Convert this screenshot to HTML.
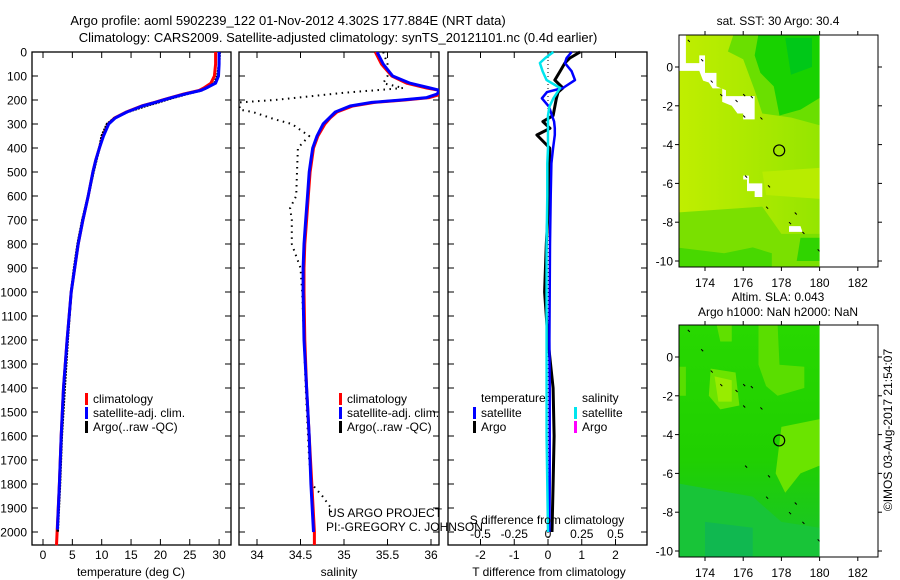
<!DOCTYPE html>
<html><head><meta charset="utf-8"><style>
html,body{margin:0;padding:0;background:#fff;}
svg{display:block;font-family:"Liberation Sans",sans-serif;}
</style></head><body>
<svg id="fig" width="900" height="580" viewBox="0 0 900 580" xmlns="http://www.w3.org/2000/svg">
<text x="288" y="25" font-size="13" text-anchor="middle">Argo profile: aoml 5902239_122 01-Nov-2012 4.302S 177.884E (NRT data)</text>
<text x="338" y="42" font-size="13" text-anchor="middle">Climatology: CARS2009. Satellite-adjusted climatology: synTS_20121101.nc (0.4d earlier)</text>
<g id="p1"></g>
<g id="p2"></g>
<g id="p3"></g>
<g id="m1"></g>
<g id="m2"></g>
<text transform="translate(892,430) rotate(-90)" font-size="12" text-anchor="middle">©IMOS 03-Aug-2017 21:54:07</text>
</svg>
<script>
// ---- data ----
const depthTicks=[0,100,200,300,400,500,600,700,800,900,1000,1100,1200,1300,1400,1500,1600,1700,1800,1900,2000];
const tempTicks=[0,5,10,15,20,25,30];
const salTicks=[34,34.5,35,35.5,36];
const tdiffTicks=[-2,-1,0,1,2];
const sdiffTicks=[-0.5,-0.25,0,0.25,0.5];
const lonTicks=[174,176,178,180,182];
const latTicks=[0,-2,-4,-6,-8,-10];

const depths=[0,50,100,130,150,160,175,190,200,210,225,250,275,300,350,400,450,500,600,700,800,900,1000,1200,1400,1600,1800,2000];
const tempClim=[29.4,29.4,29.2,28.6,27.4,26.6,24.0,21.8,20.4,19.0,16.8,14.2,12.2,11.1,10.2,9.6,9.0,8.5,7.7,6.8,6.0,5.4,4.8,4.1,3.5,3.1,2.8,2.4];
const tempSat=[30.0,30.0,29.9,29.4,27.8,26.9,24.2,21.9,20.5,19.1,16.9,14.3,12.3,11.2,10.3,9.6,9.0,8.5,7.7,6.8,6.0,5.4,4.8,4.1,3.5,3.1,2.8,2.4];
const tempArgo=[30.1,30.0,29.7,29.2,27.9,27.0,24.5,22.3,20.9,19.6,17.5,14.4,12.2,10.9,10.0,9.6,9.1,8.6,7.7,6.7,5.9,5.3,4.8,4.2,3.7,3.2,2.9,2.5];
const salClim=[35.36,35.43,35.55,35.72,35.95,36.1,36.12,35.98,35.7,35.35,35.1,34.92,34.84,34.78,34.7,34.65,34.63,34.61,34.59,34.57,34.55,34.54,34.54,34.55,34.57,34.6,34.63,34.66];
const salSat=[35.38,35.45,35.56,35.76,35.99,36.1,36.07,35.95,35.66,35.32,35.07,34.9,34.83,34.76,34.69,34.64,34.62,34.6,34.58,34.56,34.54,34.53,34.53,34.54,34.57,34.6,34.62,34.65];
const argoSalDepths=[0,50,100,130,150,170,185,200,210,240,250,280,300,350,400,500,600,650,700,800,900,1000,1400,1700,1800,1850,1900,1930];
const salArgo=[35.45,35.5,35.5,35.45,35.68,35.0,34.6,34.2,33.8,33.8,33.95,34.2,34.4,34.6,34.47,34.46,34.45,34.38,34.4,34.4,34.5,34.52,34.56,34.6,34.63,34.75,34.85,34.85];
const diffDepths=[0,25,46,80,117,150,167,193,228,265,290,318,346,400,464,600,800,1000,1200,1400,1600,1800,2000];
const tdiffSat=[0.7,0.55,0.5,0.7,0.8,0.44,-0.03,-0.18,0.03,0.12,0.18,0.2,0.2,0.15,0.1,0.08,0.06,0.05,0.04,0.05,0.05,0.05,0.04];
const tdiffArgo=[0.95,0.65,0.5,0.36,0.2,0.44,0.3,0.25,0.2,0.15,-0.15,0.06,-0.33,0.05,0.05,0.03,-0.05,-0.1,0.0,0.15,0.18,0.15,0.12];
const sdiffSat=[0.04,-0.02,-0.06,-0.04,-0.01,0.09,0.07,0.04,0.01,0.0,0.0,0.0,0.0,0.0,-0.005,-0.005,-0.01,-0.01,-0.01,-0.01,-0.01,-0.005,0.0];

const NS="http://www.w3.org/2000/svg";
function mk(parent,tag,attrs,txt){const e=document.createElementNS(NS,tag);for(const k in attrs)e.setAttribute(k,attrs[k]);if(txt!==undefined)e.textContent=txt;parent.appendChild(e);return e;}

const yTop=52,yBot=545;
const yD=d=>yTop+d*0.24;

function frame(g,x0,x1,name){
  const r=mk(g,'rect',{x:x0,y:yTop,width:x1-x0,height:yBot-yTop,fill:'none',stroke:'#000','stroke-width':1.3});
  
  
  depthTicks.forEach(d=>{mk(g,'line',{x1:x0,x2:x0+6,y1:yD(d),y2:yD(d),stroke:'#000'});mk(g,'line',{x1:x1,x2:x1-6,y1:yD(d),y2:yD(d),stroke:'#000'});});
}
function line(g,xs,ds,fx,color,w,name,dash){
  const pts=xs.map((v,i)=>fx(v).toFixed(1)+','+yD(ds[i]).toFixed(1)).join(' ');
  const a={points:pts,fill:'none',stroke:color,'stroke-width':w,'stroke-linejoin':'round'};
  if(dash)a['stroke-dasharray']=dash;
  const p=mk(g,'polyline',a);
  
  
}
function legend(g,x,y,items){
  items.forEach((it,i)=>{
    const b=mk(g,'rect',{x:x,y:y+i*14-9,width:3,height:12,fill:it[1]});
    
    
    const t=mk(g,'text',{x:x+8,y:y+i*14+1,'font-size':12},it[0]);
    
    
  });
}

// Panel 1 temperature
const p1=document.getElementById('p1');
const fT=t=>43+t*5.87;
frame(p1,32,231,'temperature');
depthTicks.forEach(d=>{const t=mk(p1,'text',{x:27,y:yD(d)+4.5,'font-size':12,'text-anchor':'end'},d);});
tempTicks.forEach(v=>{mk(p1,'line',{x1:fT(v),x2:fT(v),y1:yTop,y2:yTop+6,stroke:'#000'});mk(p1,'line',{x1:fT(v),x2:fT(v),y1:yBot,y2:yBot-6,stroke:'#000'});const t=mk(p1,'text',{x:fT(v),y:559,'font-size':12,'text-anchor':'middle'},v);});
line(p1,tempClim.concat([2.3]),depths.concat([2055]),fT,'#ff0000',3,'temp-climatology-line');
line(p1,tempArgo,depths,fT,'#000',2.5,'temp-argo-line','2,1');
line(p1,tempSat.slice(0,-1).concat([2.45]),depths.slice(0,-1).concat([1990]),fT,'#0000ff',3,'temp-satellite-line');
legend(p1,85,402,[['climatology','#ff0000'],['satellite-adj. clim.','#0000ff'],['Argo(..raw -QC)','#000']]);
mk(p1,'text',{x:131,y:576,'font-size':12,'text-anchor':'middle',},'temperature (deg C)');

// Panel 2 salinity
const p2=document.getElementById('p2');
const fS=s=>257+(s-34)*87;
const clip=mk(p2,'clipPath',{id:'c2'});mk(clip,'rect',{x:239,y:yTop,width:200,height:yBot-yTop});
frame(p2,239,439,'salinity');
salTicks.forEach(v=>{mk(p2,'line',{x1:fS(v),x2:fS(v),y1:yTop,y2:yTop+6,stroke:'#000'});mk(p2,'line',{x1:fS(v),x2:fS(v),y1:yBot,y2:yBot-6,stroke:'#000'});const t=mk(p2,'text',{x:fS(v),y:559,'font-size':12,'text-anchor':'middle'},v);});
const g2=mk(p2,'g',{'clip-path':'url(#c2)'});
line(g2,salArgo,argoSalDepths,fS,'#000',2,'salinity-argo-line','1.5,4.5');
line(g2,salClim.concat([34.66]),depths.concat([2055]),fS,'#ff0000',3,'salinity-climatology-line');
line(g2,salSat,depths,fS,'#0000ff',3,'salinity-satellite-line');
legend(p2,339,402,[['climatology','#ff0000'],['satellite-adj. clim.','#0000ff'],['Argo(..raw -QC)','#000']]);
mk(p2,'text',{x:328,y:517,'font-size':12,},'US ARGO PROJECT');
mk(p2,'text',{x:326,y:531,'font-size':12,},'PI:-GREGORY C. JOHNSON');
mk(p2,'text',{x:339,y:576,'font-size':12,'text-anchor':'middle',},'salinity');

// Panel 3 differences
const p3=document.getElementById('p3');
const fTd=v=>548+v*33.75;
const fSd=v=>548+v*135;
frame(p3,448,647,'difference');
tdiffTicks.forEach(v=>{mk(p3,'line',{x1:fTd(v),x2:fTd(v),y1:yTop,y2:yTop+6,stroke:'#000'});mk(p3,'line',{x1:fTd(v),x2:fTd(v),y1:yBot,y2:yBot-6,stroke:'#000'});const t=mk(p3,'text',{x:fTd(v),y:559,'font-size':12,'text-anchor':'middle'},v);});
sdiffTicks.forEach(v=>{const t=mk(p3,'text',{x:fSd(v),y:538,'font-size':12,'text-anchor':'middle'},v);});
mk(p3,'line',{x1:548,x2:548,y1:yTop,y2:yBot,stroke:'#000','stroke-dasharray':'1,3',});
line(p3,tdiffArgo,diffDepths,fTd,'#000',3,'tdiff-argo-line');
line(p3,tdiffSat,diffDepths,fTd,'#0000ff',2.5,'tdiff-satellite-line');
line(p3,sdiffSat,diffDepths,fSd,'#00e5ee',2.5,'sdiff-satellite-line');
mk(p3,'text',{x:481,y:402,'font-size':12,},'temperature');
mk(p3,'text',{x:582,y:402,'font-size':12,},'salinity');
legend(p3,473,416,[['satellite','#0000ff'],['Argo','#000']]);
legend(p3,574,416,[['satellite','#00e5ee'],['Argo','#ff00ff']]);
mk(p3,'text',{x:547,y:524,'font-size':12,'text-anchor':'middle',},'S difference from climatology');
mk(p3,'text',{x:549,y:576,'font-size':12,'text-anchor':'middle',},'T difference from climatology');

// Maps
const argoLon=177.884, argoLat=-4.302;
function map(id,top,title1,title2,drawField){
  const g=document.getElementById(id);
  const x0=679,x1=878,y0=top,y1=top+232;
  const fx=l=>705+(l-174)*19.1;
  const lat0=top+32, fy=l=>lat0-l*19.4;
  const cp=mk(g,'clipPath',{id:'cp'+id});mk(cp,'rect',{x:x0,y:y0,width:fx(180)-x0,height:y1-y0});
  const f=mk(g,'g',{'clip-path':'url(#cp'+id+')'});
  drawField(f,fx,fy,x0,y0,x1,y1);
  // coast fragments
  [[173.1,1.4],[173.8,0.4],[174.3,-0.7],[174.8,-1.4],[175.6,-1.7],[176.0,-1.4],[176.4,-1.5],[176.0,-2.5],[176.9,-2.6],[176.1,-5.6],[177.3,-6.1],[177.2,-7.2],[178.7,-7.5],[178.4,-8.0],[179.1,-8.5],[179.9,-9.4]].forEach(c=>{mk(f,'line',{x1:fx(c[0]),y1:fy(c[1]),x2:fx(c[0])+2,y2:fy(c[1])+2,stroke:'#000','stroke-width':1});});
  const fr=mk(g,'rect',{x:x0,y:y0,width:x1-x0,height:y1-y0,fill:'none',stroke:'#000'});
  
  
  lonTicks.forEach(v=>{mk(g,'line',{x1:fx(v),x2:fx(v),y1:y0,y2:y0-4,stroke:'#000'});mk(g,'line',{x1:fx(v),x2:fx(v),y1:y1,y2:y1+4,stroke:'#000'});const t=mk(g,'text',{x:fx(v),y:y1+20,'font-size':12,'text-anchor':'middle'},v);});
  latTicks.forEach(v=>{mk(g,'line',{x1:x0,x2:x0-4,y1:fy(v),y2:fy(v),stroke:'#000'});mk(g,'line',{x1:x1,x2:x1+4,y1:fy(v),y2:fy(v),stroke:'#000'});const t=mk(g,'text',{x:x0-6,y:fy(v)+4.5,'font-size':12,'text-anchor':'end'},v);});
  const c=mk(g,'circle',{cx:fx(argoLon),cy:fy(argoLat),r:5.5,fill:'none',stroke:'#000','stroke-width':1.2});
  
  
  if(title2){mk(g,'text',{x:778,y:top-24,'font-size':12,'text-anchor':'middle',},title1);mk(g,'text',{x:778,y:top-9,'font-size':12,'text-anchor':'middle',},title2);}
  else mk(g,'text',{x:778,y:top-10,'font-size':12,'text-anchor':'middle',},title1);
}
map('m1',35,'sat. SST: 30 Argo: 30.4',null,(f,fx,fy,x0,y0,x1,y1)=>{
  const d=mk(f,'defs',{});
  const lg=mk(d,'linearGradient',{id:'g1',x1:0,y1:0,x2:1,y2:0});
  mk(lg,'stop',{offset:0,'stop-color':'#c0ee00'});mk(lg,'stop',{offset:0.45,'stop-color':'#a6e800'});mk(lg,'stop',{offset:1,'stop-color':'#80e200'});
  mk(f,'rect',{x:x0,y:y0,width:200,height:240,fill:'url(#g1)'});
  const poly=(pts,fill)=>mk(f,'polygon',{points:pts.map(p=>fx(p[0])+','+fy(p[1])).join(' '),fill:fill});
  poly([[175.5,1.7],[180,1.7],[180,-3.0],[178.5,-2.6],[177,-2.4],[176.6,-1.2],[176,0.4],[175.2,0.8]],'#6adf00');
  poly([[176.8,1.7],[180,1.7],[180,-1.6],[179,-2.2],[177.9,-2.5],[177.6,-1.0],[176.9,-0.3],[176.6,0.6]],'#18d200');
  poly([[178.2,1.5],[179.6,1.5],[179.6,0.0],[178.5,-0.4]],'#00c818');
  poly([[172.5,-7.5],[177,-7.2],[178,-8.6],[180,-8.6],[180,-10.5],[172.5,-10.5]],'#7ae000');
  poly([[172.5,-9.3],[175,-9.6],[176.5,-9.3],[177.5,-9.6],[177.5,-10.5],[172.5,-10.5]],'#48d800');
  poly([[179,-8.8],[180,-8.8],[180,-10],[178.8,-10]],'#30d400');
  poly([[177,-5.4],[180,-5.2],[180,-6.8],[177.2,-6.6]],'#b8ec00');
  const w='#ffffff';
  poly([[172.5,1.7],[173.0,1.7],[173.0,0.2],[173.7,0.2],[173.7,0.6],[174.0,0.6],[174.0,-0.3],[174.6,-0.3],[174.6,-1.0],[175.1,-1.2],[175.1,-1.5],[176.6,-1.5],[176.6,-2.7],[176.0,-2.7],[176.0,-2.4],[175.7,-2.4],[175.4,-2.0],[174.9,-1.8],[174.9,-1.1],[174.4,-1.1],[174.2,-0.8],[173.9,-0.7],[173.7,-0.2],[172.5,-0.2]],w);
  poly([[176.0,-5.6],[176.3,-5.6],[176.3,-6.0],[177.0,-6.0],[177.0,-6.7],[176.6,-6.7],[176.6,-6.4],[176.2,-6.4],[176.2,-5.8],[176.0,-5.8]],w);
  poly([[178.4,-8.2],[179.0,-8.2],[179.1,-8.5],[178.4,-8.5]],w);
});
map('m2',325,'Altim. SLA: 0.043','Argo h1000: NaN h2000: NaN',(f,fx,fy,x0,y0,x1,y1)=>{
  const d=mk(f,'defs',{});
  const lg=mk(d,'linearGradient',{id:'g2',x1:0,y1:0,x2:0,y2:1});
  mk(lg,'stop',{offset:0,'stop-color':'#28d800'});mk(lg,'stop',{offset:0.55,'stop-color':'#20d000'});mk(lg,'stop',{offset:1,'stop-color':'#18c230'});
  mk(f,'rect',{x:x0,y:y0,width:200,height:240,fill:'url(#g2)'});
  const poly=(pts,fill)=>mk(f,'polygon',{points:pts.map(p=>fx(p[0])+','+fy(p[1])).join(' '),fill:fill});
  poly([[172.5,-6.5],[176.5,-7.2],[178,-8.5],[180,-8.8],[180,-10.5],[172.5,-10.5]],'#18c438');
  poly([[174,-8.5],[176.5,-8.8],[176.5,-10.5],[174,-10.5]],'#10b850');
  poly([[174.3,-0.6],[175.6,-0.8],[175.8,-2.5],[174.8,-2.7],[174.2,-2.0]],'#6ce400');
  poly([[174.5,-1.0],[175.4,-1.2],[175.4,-2.3],[174.7,-2.3]],'#98ec00');
  poly([[176.8,1.7],[177.8,1.7],[177.9,-0.4],[179.2,-0.5],[179.2,-1.6],[177.8,-2.0],[177.2,-1.5],[176.8,-0.4]],'#5ade00');
  poly([[178.0,-3.6],[180,-3.2],[180,-5.6],[179,-6.0],[178.2,-7.0],[177.7,-6.0]],'#6ae400');
  poly([[174.6,1.7],[175.4,1.7],[175.4,0.8],[174.8,0.8]],'#60e000');
  poly([[172.5,-0.5],[173,-0.5],[173,-2],[172.5,-2]],'#58de00');
});
</script>
</body></html>
